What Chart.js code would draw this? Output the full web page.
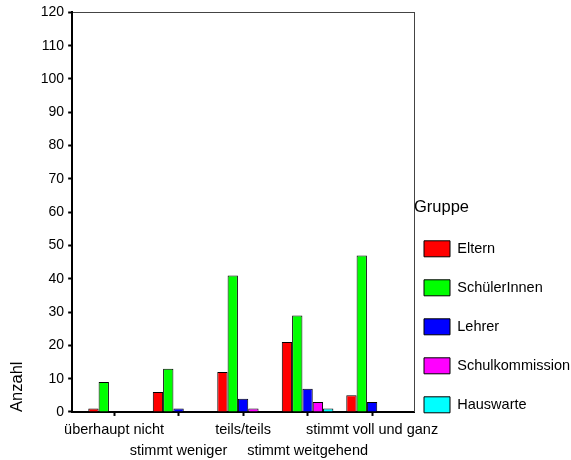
<!DOCTYPE html>
<html><head><meta charset="utf-8">
<script src="https://cdn.jsdelivr.net/npm/chart.js@4"></script>
<style>html,body{margin:0;padding:0;background:#fff}#w{width:571px;height:460px}</style>
</head><body><div id="w"><canvas id="c" width="571" height="460"></canvas></div>
<script>
const categories = ["überhaupt nicht","stimmt weniger","teils/teils","stimmt weitgehend","stimmt voll und ganz"];
const groups = ["Eltern","SchülerInnen","Lehrer","Schulkommission","Hauswarte"];
const eltern = [1,6,12,21,5];
const schueler = [9,13,41,29,47];
const lehrer = [0,1,4,7,3];
const schulkommission = [0,0,1,3,0];
const hauswarte = [0,0,0,1,0];
const colors = ["#ff0000","#00ff00","#0000ff","#ff00ff","#00ffff"];
const yTicks = [0,10,20,30,40,50,60,70,80,90,100,110,120];

const series = [eltern, schueler, lehrer, schulkommission, hauswarte];
const datasets = series.map((vals,k)=>({
  label: groups[k],
  data: vals.map((v,i)=>({x:i,y:v})),
  backgroundColor: colors[k],
  borderColor: '#000',
  borderWidth: 1,
  borderSkipped: 'bottom',
  categoryPercentage: 0.8,
  barPercentage: 1.0
}));
const fam = "Arial, 'Liberation Sans', sans-serif";
new Chart(document.getElementById('c'), {
  type: 'bar',
  data: {datasets},
  options: {
    responsive: false,
    animation: false,
    devicePixelRatio: 1,
    layout: {padding: {top: 4, right: 0, bottom: -6, left: 8}},
    plugins: {
      tooltip: {enabled: false},
      legend: {
        position: 'right',
        align: 'start',
        maxWidth: 157,
        title: {display: true, text: 'Gruppe', position: 'start', color: '#000', font: {family: fam, size: 16.5}, padding: {top: 195, bottom: 12}},
        labels: {
          boxWidth: 26, boxHeight: 16, padding: 10, color: '#000',
          font: {family: fam, size: 14.5, lineHeight: '29px'},
          generateLabels: (chart) => Chart.defaults.plugins.legend.labels.generateLabels(chart).map(l => Object.assign(l, {text: [l.text]}))
        }
      }
    },
    scales: {
      x: {
        type: 'linear', position: 'bottom', min: -0.65, max: 4.65,
        offset: false,
        grid: {display: true, offset: false, drawOnChartArea: false, color: '#000', tickLength: 4, tickWidth: 2},
        border: {display: true, color: '#000', width: 2},
        ticks: {
          stepSize: 1, includeBounds: false, autoSkip: false, maxRotation: 0, minRotation: 0,
          color: '#000', font: {family: fam, size: 14.5, lineHeight: 1.45}, padding: 4,
          callback: (v)=> {
            if (!Number.isInteger(v) || v < 0 || v >= categories.length) return '';
            return v % 2 === 0 ? [categories[v], ''] : ['', categories[v]];
          }
        }
      },
      x2: {
        type: 'linear', position: 'top', min: 0, max: 1,
        grid: {display: false}, ticks: {display: false},
        border: {display: true, color: '#444', width: 1}
      },
      y: {
        type: 'linear', min: 0, max: 120,
        afterBuildTicks: (s)=>{ s.ticks = yTicks.map(v=>({value:v})); },
        grid: {display: true, drawOnChartArea: false, color: '#000', tickLength: 4, tickWidth: 2},
        border: {display: true, color: '#000', width: 2},
        ticks: {color: '#000', font: {family: fam, size: 14}, padding: 4},
        title: {display: true, text: 'Anzahl', align: 'start', color: '#000', font: {family: fam, size: 16.5}, padding: {top: 0, bottom: 9}}
      },
      y2: {
        type: 'linear', position: 'right', min: 0, max: 1,
        grid: {display: false, drawTicks: false}, ticks: {display: false},
        border: {display: true, color: '#444', width: 1}
      }
    }
  }
});
</script>
</body></html>
